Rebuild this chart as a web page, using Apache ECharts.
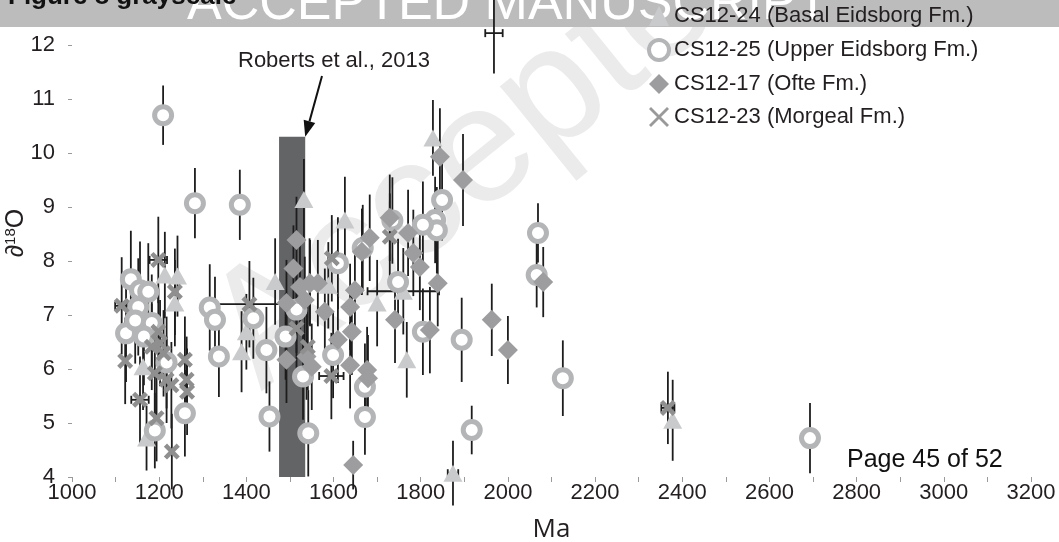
<!DOCTYPE html>
<html>
<head>
<meta charset="utf-8">
<script src="https://cdn.jsdelivr.net/npm/echarts@6/dist/echarts.min.js"></script>
<style>
  html, body { margin: 0; padding: 0; background: #fff; }
  #chart { width: 1059px; height: 542px; }
</style>
</head>
<body>
<div id="chart"></div>
<script>
// Each row: [age (Ma), δ18O (‰), ± δ18O error, ± age error]
const basalEidsborg = [
  [1968, 12.22, 0.75, 20], [1828, 10.28, 0.70, 0], [1532, 9.14, 0.75, 0],
  [1213, 7.74, 0.80, 0], [1242, 7.72, 0.75, 0], [1466, 7.62, 0.80, 0],
  [1389, 6.32, 0.75, 0], [1400, 6.69, 0.70, 0], [1171, 4.72, 0.60, 0],
  [1626, 8.76, 0.80, 0], [1700, 7.22, 0.80, 0], [1768, 6.17, 0.70, 0],
  [1874, 4.07, 0.60, 12], [2378, 5.05, 0.75, 0], [1760, 7.44, 0.80, 82],
  [1236, 7.22, 0.80, 0], [1163, 6.04, 0.80, 0], [1545, 7.62, 0.80, 0],
  [1588, 7.55, 0.80, 0]
];
const upperEidsborg = [
  [1209, 10.70, 0.55, 0], [1282, 9.07, 0.65, 0], [1385, 9.04, 0.65, 0],
  [1135, 7.66, 0.90, 0], [1156, 7.46, 0.90, 0], [1175, 7.43, 0.90, 0],
  [1152, 7.15, 0.90, 0], [1124, 6.66, 0.90, 0], [1145, 6.90, 0.80, 0],
  [1183, 6.85, 0.90, 0], [1165, 6.60, 0.90, 0], [1217, 6.12, 0.85, 0],
  [1259, 5.18, 0.80, 0], [1190, 4.86, 0.70, 0], [1316, 7.14, 0.80, 0],
  [1328, 6.91, 0.80, 0], [1337, 6.23, 0.75, 0], [1416, 6.94, 0.75, 0],
  [1446, 6.35, 0.80, 0], [1453, 5.12, 0.65, 0], [1542, 4.81, 0.80, 0],
  [1530, 5.86, 0.80, 0], [1849, 9.13, 0.75, 0], [1833, 8.76, 0.80, 0],
  [1837, 8.57, 0.80, 0], [1805, 8.67, 0.80, 0], [1748, 7.61, 0.80, 0],
  [1805, 6.69, 0.80, 0], [1610, 7.96, 0.85, 0], [1667, 8.24, 0.80, 0],
  [1599, 6.26, 0.80, 0], [1672, 5.67, 0.80, 0], [1672, 5.11, 0.70, 0],
  [1894, 6.54, 0.78, 0], [1917, 4.87, 0.45, 0], [2069, 8.52, 0.55, 0],
  [2066, 7.74, 0.60, 0], [2126, 5.83, 0.70, 0], [2693, 4.72, 0.65, 0],
  [1735, 8.75, 0.80, 0], [1490, 6.60, 0.80, 0], [1515, 7.10, 0.80, 0]
];
const ofte = [
  [1897, 9.50, 0.85, 0], [1844, 9.93, 0.90, 0], [2081, 7.61, 0.65, 0],
  [1963, 6.91, 0.67, 0], [2000, 6.35, 0.63, 0], [1645, 4.22, 0.45, 0],
  [1839, 7.59, 0.80, 0], [1741, 6.91, 0.80, 0], [1821, 6.72, 0.80, 0],
  [1783, 8.15, 0.80, 0], [1798, 7.89, 0.80, 0], [1771, 8.52, 0.80, 0],
  [1683, 8.43, 0.80, 0], [1665, 8.17, 0.80, 0], [1649, 7.46, 0.80, 0],
  [1638, 7.15, 0.80, 0], [1580, 7.06, 0.80, 0], [1642, 6.69, 0.80, 0],
  [1610, 6.54, 0.80, 0], [1638, 6.07, 0.80, 0], [1677, 5.98, 0.80, 0],
  [1679, 5.83, 0.80, 0], [1546, 7.59, 0.80, 0], [1564, 7.59, 0.80, 0],
  [1534, 7.28, 0.80, 0], [1550, 6.04, 0.80, 0], [1515, 8.39, 0.80, 0],
  [1508, 7.86, 0.80, 0], [1492, 7.22, 0.80, 0], [1523, 7.52, 0.80, 0],
  [1538, 6.23, 0.80, 0], [1492, 6.17, 0.80, 0], [1729, 8.80, 0.80, 0]
];
const morgeal = [
  [1198, 8.02, 0.80, 20], [1114, 7.17, 0.90, 15], [1407, 7.20, 0.80, 85],
  [1122, 6.15, 0.80, 0], [1259, 6.17, 0.80, 0], [1263, 5.80, 0.80, 0],
  [1264, 5.58, 0.80, 0], [1156, 5.43, 0.80, 20], [1229, 4.47, 0.70, 0],
  [1194, 5.09, 0.80, 0], [1236, 7.43, 0.80, 0], [1198, 6.69, 0.80, 0],
  [1202, 6.48, 0.80, 0], [1210, 6.29, 0.80, 0], [1183, 6.41, 0.80, 0],
  [1217, 5.80, 0.80, 0], [1228, 5.70, 0.80, 0], [1190, 5.92, 0.80, 0],
  [1596, 8.05, 0.80, 0], [1729, 8.45, 0.80, 0], [1595, 5.87, 0.80, 28],
  [1541, 6.41, 0.80, 0], [2367, 5.28, 0.67, 15], [1515, 6.75, 0.80, 0]
];
const seriesNames = [
  'CS12-24 (Basal Eidsborg Fm.)',
  'CS12-25 (Upper Eidsborg Fm.)',
  'CS12-17 (Ofte Fm.)',
  'CS12-23 (Morgeal Fm.)'
];
// Age window and upper δ18O bound of the Roberts et al. (2013) estimate
const robertsRange = [[1475, 1535, 10.3]];
const robertsLabel = 'Roberts et al., 2013';

const FONT = 'Liberation Sans, Arial, sans-serif';
const crossPath = 'path://M2,0 L5,3 L8,0 L10,2 L7,5 L10,8 L8,10 L5,7 L2,10 L0,8 L3,5 L0,2 Z';
const thinCrossPath = 'path://M1,0 L5,4 L9,0 L10,1 L6,5 L10,9 L9,10 L5,6 L1,10 L0,9 L4,5 L0,1 Z';

const chart = echarts.init(document.getElementById('chart'), null, { renderer: 'canvas' });

function renderErrorBar(params, api) {
  const x = api.value(0), y = api.value(1), ey = api.value(2), ex = api.value(3);
  const style = { stroke: '#1d1d1d', lineWidth: 1.8 };
  const kids = [];
  if (ey > 0) {
    const a = api.coord([x, y + ey]), b = api.coord([x, y - ey]);
    kids.push({ type: 'line', shape: { x1: a[0], y1: a[1], x2: b[0], y2: b[1] }, style });
  }
  if (ex > 0) {
    const l = api.coord([x - ex, y]), r = api.coord([x + ex, y]);
    kids.push({ type: 'line', shape: { x1: l[0], y1: l[1], x2: r[0], y2: r[1] }, style });
    kids.push({ type: 'line', shape: { x1: l[0], y1: l[1] - 4, x2: l[0], y2: l[1] + 4 }, style });
    kids.push({ type: 'line', shape: { x1: r[0], y1: r[1] - 4, x2: r[0], y2: r[1] + 4 }, style });
  }
  return { type: 'group', children: kids };
}

function renderRange(params, api) {
  const p0 = api.coord([api.value(0), api.value(2)]);
  const p1 = api.coord([api.value(1), 4]);
  return {
    type: 'rect',
    shape: { x: p0[0], y: p0[1], width: p1[0] - p0[0], height: p1[1] - p0[1] },
    style: { fill: '#636466' }
  };
}

const allErrors = [].concat(basalEidsborg, upperEidsborg, ofte, morgeal);
const pts = arr => arr.map(d => [d[0], d[1]]);

const option = {
  animation: false,
  backgroundColor: '#fff',
  grid: { left: 72, right: 28, top: 45, bottom: 65, outerBoundsMode: 'none', containLabel: false },
  xAxis: {
    type: 'value', min: 1000, max: 3200, interval: 100,
    name: 'Ma', nameLocation: 'middle', nameGap: 40,
    nameTextStyle: { fontSize: 26, color: '#231f20', fontFamily: 'Open Sans, sans-serif' },
    axisLine: { show: false },
    axisTick: { show: true, length: 5, lineStyle: { color: '#9a9a9a', width: 1 } },
    splitLine: { show: false },
    axisLabel: {
      margin: 5, fontSize: 22, color: '#231f20', fontFamily: FONT,
      formatter: v => (v % 200 === 0 ? String(v) : '')
    }
  },
  yAxis: {
    type: 'value', min: 4, max: 12, interval: 1,
    axisLine: { show: false },
    axisTick: { show: true, length: 4, lineStyle: { color: '#9a9a9a', width: 1 } },
    splitLine: { show: false },
    axisLabel: { margin: 17, fontSize: 22, color: '#231f20', fontFamily: FONT }
  },
  legend: {
    orient: 'vertical', left: 647, top: 5, padding: 0, z: 20,
    itemWidth: 20, itemHeight: 20, itemGap: 11,
    textStyle: { fontSize: 22, color: '#231f20', fontFamily: FONT },
    data: [
      { name: seriesNames[0], icon: 'triangle', itemStyle: { color: '#c9cacb' } },
      { name: seriesNames[1], icon: 'circle', itemStyle: { color: '#fff', borderColor: '#b4b5b7', borderWidth: 4 } },
      { name: seriesNames[2], icon: 'diamond', itemStyle: { color: '#9d9d9f' } },
      { name: seriesNames[3], icon: thinCrossPath, itemStyle: { color: '#9a9a9a' } }
    ],
    selectedMode: false
  },
  graphic: [
    { id: 'band', type: 'rect', z: -10, shape: { x: 0, y: 0, width: 1059, height: 27 }, style: { fill: '#bcbcbc' } },
    { id: 'bandText', type: 'text', z: -9, x: 187, y: 5,
      style: { text: 'ACCEPTED MANUSCRIPT', fill: '#ffffff', font: '52px ' + FONT, align: 'left', verticalAlign: 'middle' } },
    { id: 'figTitle', type: 'text', z: -8, x: 8, y: -3,
      style: { text: 'Figure 8 grayscale', fill: '#111', font: 'bold 26px ' + FONT, align: 'left', verticalAlign: 'middle' } },
    { id: 'stamp', type: 'text', z: -20, x: 500, y: 140, rotation: 0.68,
      style: { text: 'Accepted', fill: '#ebebeb', font: '165px ' + FONT, align: 'center', verticalAlign: 'middle' } },
    { id: 'robLabel', type: 'text', z: 10, x: 238, y: 61,
      style: { text: robertsLabel, fill: '#231f20', font: '22px ' + FONT, align: 'left', verticalAlign: 'middle' } },
    { id: 'page', type: 'text', z: 10, x: 847, y: 460,
      style: { text: 'Page 45 of 52', fill: '#111', font: '25px ' + FONT, align: 'left', verticalAlign: 'middle' } },
    { id: 'yName', type: 'text', z: 10, x: 16, y: 233, rotation: Math.PI / 2,
      style: {
        text: '∂{s|18}O', fill: '#231f20', font: '25px ' + FONT, align: 'center', verticalAlign: 'middle',
        rich: { s: { fontSize: 15, fontFamily: FONT, verticalAlign: 'top', fill: '#231f20' } }
      } }
  ],
  series: [
    {
      type: 'custom', name: 'range', z: 1, clip: false, silent: true,
      renderItem: renderRange, encode: { x: 0, y: 2 }, data: robertsRange
    },
    {
      type: 'custom', name: 'errors', z: 2, clip: false, silent: true,
      renderItem: renderErrorBar, encode: { x: 0, y: 1 }, data: allErrors
    },
    {
      type: 'scatter', name: seriesNames[0], z: 3, data: pts(basalEidsborg),
      symbol: 'triangle', symbolSize: [19, 17], itemStyle: { color: '#c9cacb', opacity: 1 }
    },
    {
      type: 'scatter', name: seriesNames[1], z: 3, data: pts(upperEidsborg),
      symbol: 'circle', symbolSize: 17,
      itemStyle: { color: '#ffffff', borderColor: '#b4b5b7', borderWidth: 5, opacity: 1 }
    },
    {
      type: 'scatter', name: seriesNames[2], z: 3, data: pts(ofte),
      symbol: 'diamond', symbolSize: 20, itemStyle: { color: '#9d9d9f', opacity: 1 }
    },
    {
      type: 'scatter', name: seriesNames[3], z: 3, data: pts(morgeal),
      symbol: crossPath, symbolSize: 16, itemStyle: { color: '#8f8f8f', opacity: 1 }
    }
  ]
};

chart.setOption(option);

// Arrow from the label down to the top of the Roberts et al. range
const tip = chart.convertToPixel({ gridIndex: 0 }, [robertsRange[0][1], robertsRange[0][2]]);
const start = [322, 76];
const ang = Math.atan2(tip[1] - start[1], tip[0] - start[0]);
const headLen = 16, headHalf = 6;
const base = [tip[0] - headLen * Math.cos(ang), tip[1] - headLen * Math.sin(ang)];
const nx = -Math.sin(ang), ny = Math.cos(ang);
chart.setOption({
  graphic: [
    { id: 'arrowShaft', type: 'line', z: 10, shape: { x1: start[0], y1: start[1], x2: base[0], y2: base[1] },
      style: { stroke: '#111', lineWidth: 2 } },
    { id: 'arrowHead', type: 'polygon', z: 10,
      shape: { points: [tip, [base[0] + nx * headHalf, base[1] + ny * headHalf], [base[0] - nx * headHalf, base[1] - ny * headHalf]] },
      style: { fill: '#111' } }
  ]
});
</script>
</body>
</html>
